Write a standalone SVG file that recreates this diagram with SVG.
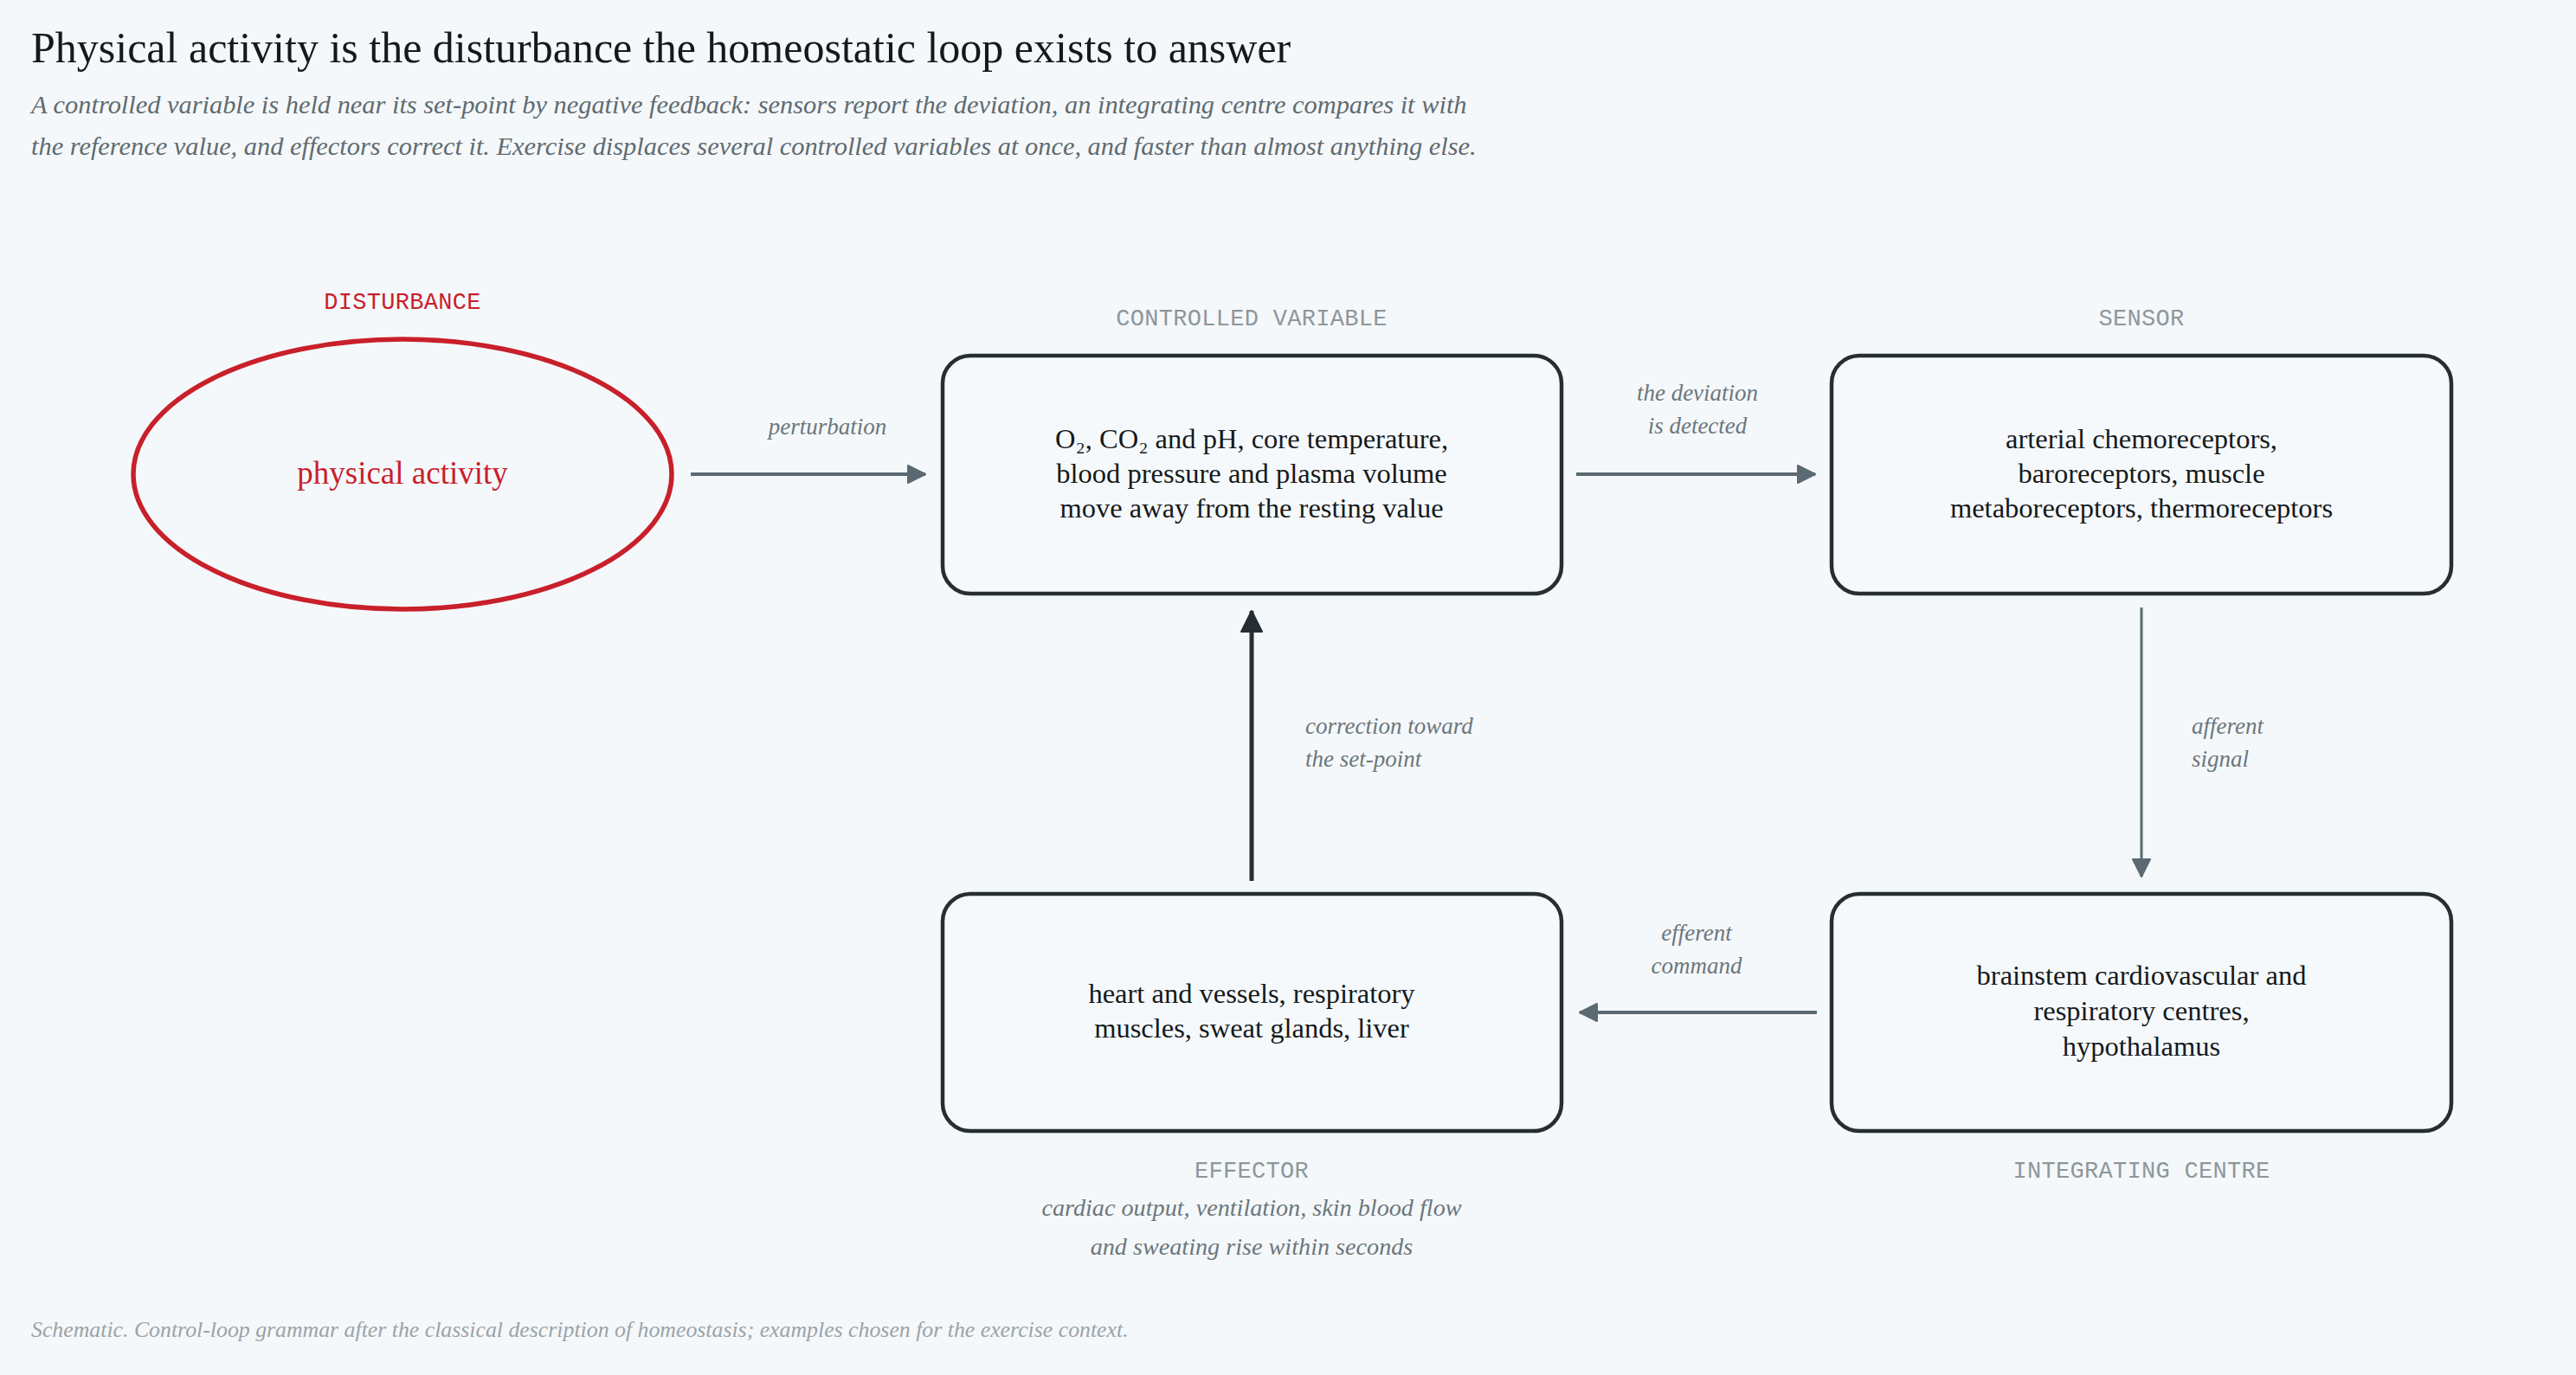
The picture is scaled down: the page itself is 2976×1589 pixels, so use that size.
<svg xmlns="http://www.w3.org/2000/svg" width="2976" height="1589" viewBox="0 0 2976 1589">
<style>
.serif{font-family:"Liberation Serif","Times New Roman",serif}
.title{font-size:50px;fill:#15191c}
.sub{font-size:30.4px;font-style:italic;fill:#5f6b71}
.mono{font-family:"Liberation Mono","DejaVu Sans Mono",monospace;font-size:27px;fill:#8d979c;text-anchor:middle;letter-spacing:0.3px}
.box{fill:#f6f9fb;stroke:#262e33;stroke-width:4.5}
.body{font-family:"Liberation Serif","Times New Roman",serif;font-size:32.5px;fill:#15191c;text-anchor:middle}
.elab{font-family:"Liberation Serif","Times New Roman",serif;font-size:27px;font-style:italic;fill:#6b777d}
.cap{font-size:28.2px}
.foot{font-family:"Liberation Serif","Times New Roman",serif;font-size:25.8px;font-style:italic;fill:#9aa3a8}
.con{fill:none;stroke:#5b6a72;stroke-width:4}
</style>
<defs>
<marker id="ag" viewBox="0 0 24 24" refX="22" refY="12" markerWidth="24" markerHeight="24" markerUnits="userSpaceOnUse" orient="auto">
<path d="M2,2 L22,12 L2,22 Z" fill="#5b6a72" stroke="#5b6a72" stroke-width="2" stroke-linejoin="round"/>
</marker>
<marker id="ad" viewBox="0 0 28 28" refX="26" refY="14" markerWidth="28" markerHeight="28" markerUnits="userSpaceOnUse" orient="auto">
<path d="M2,2 L26,14 L2,26 Z" fill="#262e33" stroke="#262e33" stroke-width="2" stroke-linejoin="round"/>
</marker>
</defs>
<rect x="0" y="0" width="2976" height="1589" fill="#f5f8fa"/>

<g id="header">
<text class="serif title" x="36" y="72">Physical activity is the disturbance the homeostatic loop exists to answer</text>
<text class="serif sub" x="36" y="131">A controlled variable is held near its set-point by negative feedback: sensors report the deviation, an integrating centre compares it with</text>
<text class="serif sub" x="36" y="179">the reference value, and effectors correct it. Exercise displaces several controlled variables at once, and faster than almost anything else.</text>
</g>

<g id="connectors">
<line class="con" x1="798" y1="548" x2="1069" y2="548" marker-end="url(#ag)"/>
<text class="elab" x="956" y="502" text-anchor="middle">perturbation</text>
<line class="con" x1="1821" y1="548" x2="2097" y2="548" marker-end="url(#ag)"/>
<text class="elab" x="1961" y="463" text-anchor="middle">the deviation</text>
<text class="elab" x="1961" y="501" text-anchor="middle">is detected</text>
<line class="con" style="stroke-width:3" x1="2474" y1="702" x2="2474" y2="1013" marker-end="url(#ag)"/>
<text class="elab" x="2532" y="848">afferent</text>
<text class="elab" x="2532" y="886">signal</text>
<line class="con" x1="2099" y1="1170" x2="1825" y2="1170" marker-end="url(#ag)"/>
<text class="elab" x="1960" y="1087" text-anchor="middle">efferent</text>
<text class="elab" x="1960" y="1125" text-anchor="middle">command</text>
<line class="con" style="stroke:#262e33;stroke-width:5" x1="1446" y1="1018" x2="1446" y2="706" marker-end="url(#ad)"/>
<text class="elab" x="1508" y="848">correction toward</text>
<text class="elab" x="1508" y="886">the set-point</text>
</g>

<g id="disturbance">
<text class="mono" x="465" y="357" style="fill:#c8202b">DISTURBANCE</text>
<ellipse cx="465" cy="548" rx="311" ry="156" fill="none" stroke="#c8202b" stroke-width="5.5"/>
<text class="serif" x="465" y="559" text-anchor="middle" style="font-size:37px;fill:#c8202b">physical activity</text>
</g>

<g id="controlled-variable">
<text class="mono" x="1446" y="376">CONTROLLED VARIABLE</text>
<rect class="box" x="1089" y="411" width="715" height="275" rx="32"/>
<text class="body" x="1446" y="518">O₂, CO₂ and pH, core temperature,</text>
<text class="body" x="1446" y="558">blood pressure and plasma volume</text>
<text class="body" x="1446" y="598">move away from the resting value</text>
</g>

<g id="sensor">
<text class="mono" x="2474" y="376">SENSOR</text>
<rect class="box" x="2116" y="411" width="716" height="275" rx="32"/>
<text class="body" x="2474" y="518">arterial chemoreceptors,</text>
<text class="body" x="2474" y="558">baroreceptors, muscle</text>
<text class="body" x="2474" y="598">metaboreceptors, thermoreceptors</text>
</g>

<g id="integrating-centre">
<rect class="box" x="2116" y="1033" width="716" height="274" rx="32"/>
<text class="body" x="2474" y="1138">brainstem cardiovascular and</text>
<text class="body" x="2474" y="1179">respiratory centres,</text>
<text class="body" x="2474" y="1220">hypothalamus</text>
<text class="mono" x="2474" y="1361">INTEGRATING CENTRE</text>
</g>

<g id="effector">
<rect class="box" x="1089" y="1033" width="715" height="274" rx="32"/>
<text class="body" x="1446" y="1159">heart and vessels, respiratory</text>
<text class="body" x="1446" y="1199">muscles, sweat glands, liver</text>
<text class="mono" x="1446" y="1361">EFFECTOR</text>
<text class="elab cap" x="1446" y="1405" text-anchor="middle">cardiac output, ventilation, skin blood flow</text>
<text class="elab cap" x="1446" y="1450" text-anchor="middle">and sweating rise within seconds</text>
</g>

<g id="footer">
<text class="foot" x="36" y="1545">Schematic. Control-loop grammar after the classical description of homeostasis; examples chosen for the exercise context.</text>
</g>
</svg>
